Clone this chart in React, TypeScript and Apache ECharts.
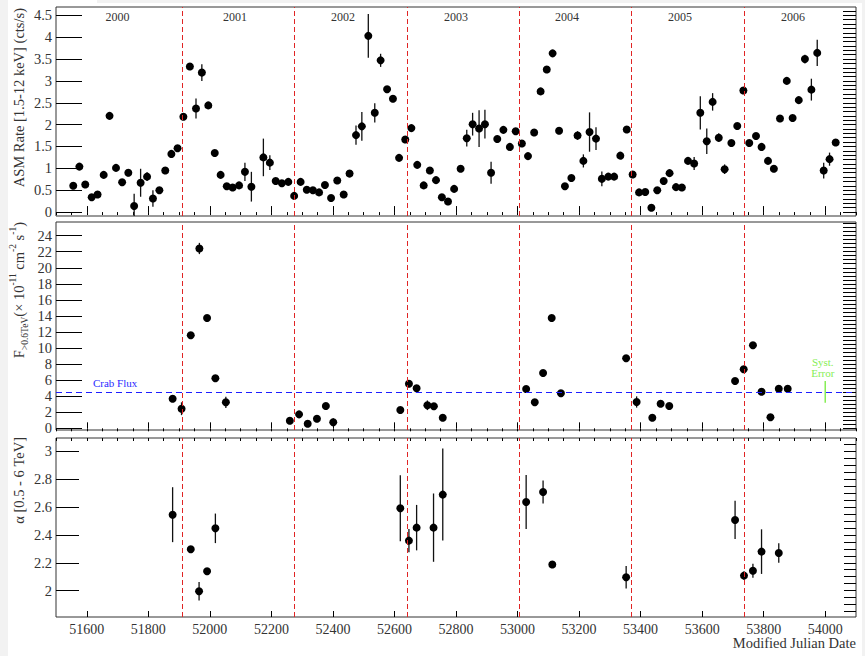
import React, { useEffect, useRef } from "react";
import * as echarts from "echarts";

// Calendar year boundaries (MJD of Jan 1st) and year captions
const yearStarts = [51910, 52275, 52640, 53005, 53371, 53736];
const yearNames = ["2000", "2001", "2002", "2003", "2004", "2005", "2006"];
const yearLabelMjd = [51700, 52082, 52433, 52800, 53161, 53528, 53895];

// RXTE ASM count rate (1.5-12 keV)
const asmMjd = [
  51556, 51576, 51595, 51616, 51635, 51655, 51674, 51695, 51715, 51735,
  51754, 51775, 51796, 51815, 51836, 51855, 51875, 51895, 51914, 51935,
  51955, 51974, 51995, 52016, 52035, 52055, 52074, 52095, 52114, 52135,
  52174, 52195, 52214, 52234, 52255, 52274, 52295, 52315, 52335, 52355,
  52374, 52394, 52414, 52435, 52454, 52475, 52494, 52515, 52536, 52555,
  52576, 52595, 52615, 52635, 52655, 52674, 52695, 52715, 52735, 52754,
  52774, 52794, 52815, 52835, 52854, 52875, 52894, 52914, 52934, 52954,
  52975, 52994, 53014, 53034, 53054, 53075, 53095, 53114, 53135, 53154,
  53175, 53195, 53214, 53234, 53255, 53274, 53295, 53314, 53334, 53355,
  53374, 53395, 53415, 53435, 53454, 53475, 53494, 53515, 53534, 53554,
  53574, 53594, 53615, 53634, 53654, 53673, 53695, 53714, 53734, 53753,
  53775, 53793, 53814, 53833, 53853, 53875, 53894, 53914, 53934, 53955,
  53974, 53995, 54014, 54034,
];
const asmRate = [
  0.6, 1.04, 0.63, 0.34, 0.4, 0.85, 2.2, 1.01, 0.68, 0.9,
  0.14, 0.67, 0.81, 0.31, 0.5, 0.95, 1.33, 1.46, 2.18, 3.33,
  2.37, 3.19, 2.44, 1.35, 0.85, 0.59, 0.56, 0.61, 0.92, 0.58,
  1.25, 1.13, 0.71, 0.66, 0.69, 0.37, 0.69, 0.51, 0.5, 0.45,
  0.62, 0.32, 0.72, 0.4, 0.88, 1.76, 1.96, 4.03, 2.27, 3.47,
  2.81, 2.59, 1.24, 1.66, 1.92, 1.08, 0.61, 0.95, 0.73, 0.34,
  0.24, 0.53, 0.99, 1.69, 2.01, 1.91, 2.01, 0.9, 1.67, 1.88,
  1.49, 1.85, 1.57, 1.28, 1.82, 2.76, 3.26, 3.63, 1.86, 0.59,
  0.78, 1.75, 1.17, 1.83, 1.68, 0.76, 0.81, 0.81, 1.29, 1.89,
  0.86, 0.45, 0.46, 0.1, 0.5, 0.71, 0.89, 0.57, 0.56, 1.17,
  1.11, 2.27, 1.62, 2.52, 1.7, 0.98, 1.58, 1.97, 2.78, 1.58,
  1.74, 1.49, 1.17, 0.99, 2.14, 3.0, 2.15, 2.56, 3.5, 2.8,
  3.64, 0.95, 1.21, 1.59,
];
const asmErr = [
  0.05, 0.05, 0.05, 0.05, 0.05, 0.05, 0.05, 0.05, 0.05, 0.08,
  0.28, 0.32, 0.1, 0.19, 0.05, 0.05, 0.05, 0.05, 0.05, 0.05,
  0.23, 0.19, 0.05, 0.05, 0.05, 0.05, 0.05, 0.05, 0.21, 0.34,
  0.43, 0.17, 0.05, 0.05, 0.05, 0.05, 0.05, 0.05, 0.05, 0.05,
  0.05, 0.05, 0.05, 0.05, 0.05, 0.22, 0.33, 0.5, 0.22, 0.15,
  0.05, 0.05, 0.05, 0.05, 0.05, 0.05, 0.05, 0.05, 0.05, 0.05,
  0.05, 0.05, 0.05, 0.19, 0.26, 0.42, 0.33, 0.25, 0.08, 0.05,
  0.05, 0.05, 0.05, 0.05, 0.05, 0.05, 0.05, 0.05, 0.05, 0.05,
  0.05, 0.1, 0.15, 0.45, 0.26, 0.17, 0.05, 0.05, 0.05, 0.05,
  0.05, 0.05, 0.05, 0.05, 0.05, 0.05, 0.05, 0.05, 0.05, 0.05,
  0.15, 0.38, 0.29, 0.2, 0.1, 0.11, 0.05, 0.05, 0.05, 0.05,
  0.05, 0.05, 0.05, 0.05, 0.05, 0.05, 0.05, 0.05, 0.1, 0.25,
  0.3, 0.18, 0.15, 0.05,
];

// VHE integral flux above 0.6 TeV (1e-11 cm^-2 s^-1)
const fluxMjd = [
  51879, 51908, 51938, 51966, 51991, 52018, 52052, 52260, 52290, 52318,
  52348, 52377, 52401, 52619, 52647, 52672, 52707, 52728, 52757, 53028,
  53056, 53083, 53111, 53141, 53353, 53387, 53438, 53465, 53493, 53707,
  53735, 53765, 53793, 53822, 53849, 53878,
];
const fluxVal = [
  3.69, 2.44, 11.59, 22.4, 13.74, 6.23, 3.24, 0.95, 1.74, 0.57,
  1.2, 2.78, 0.75, 2.28, 5.56, 4.98, 2.87, 2.74, 1.32, 4.9,
  3.24, 6.89, 13.74, 4.36, 8.72, 3.28, 1.32, 3.07, 2.78, 5.89,
  7.35, 10.34, 4.56, 1.37, 4.93, 4.93,
];
const fluxErr = [
  0.3, 0.8, 0.3, 0.7, 0.3, 0.3, 0.7, 0.3, 0.3, 0.3,
  0.3, 0.3, 0.5, 0.3, 0.3, 0.3, 0.6, 0.3, 0.3, 0.3,
  0.3, 0.3, 0.3, 0.3, 0.3, 0.7, 0.3, 0.3, 0.3, 0.3,
  0.3, 0.3, 0.3, 0.3, 0.3, 0.3,
];
const crabFlux = 4.49;
const systMjd = 54000;
const systLow = 3.2;
const systHigh = 5.9;

// Photon index between 0.5 and 6 TeV
const indexMjd = [
  51879, 51938, 51965, 51991, 52018, 52619, 52647, 52672, 52727, 52757,
  53028, 53083, 53113, 53353, 53707, 53736, 53765, 53793, 53849,
];
const indexVal = [
  2.545, 2.297, 1.996, 2.139, 2.447, 2.591, 2.359, 2.452, 2.452, 2.689,
  2.636, 2.708, 2.187, 2.096, 2.507, 2.108, 2.143, 2.28, 2.27,
];
const indexErr = [
  0.197, 0.02, 0.066, 0.02, 0.106, 0.237, 0.084, 0.163, 0.245, 0.33,
  0.194, 0.083, 0.01, 0.081, 0.137, 0.03, 0.05, 0.16, 0.07,
];

const SERIF = '"Liberation Serif", "Times New Roman", serif';

function steps(from: number, to: number, step: number, digits: number) {
  const out: number[] = [];
  const n = Math.round((to - from) / step);
  for (let i = 0; i <= n; i++) out.push(+(from + i * step).toFixed(digits));
  return out;
}

const xMajor = steps(51600, 54000, 200, 0);
const xMinor = steps(51500, 54100, 50, 0);

const panels = [
  { top: 7, height: 209, min: -0.09, max: 4.69, major: steps(0, 4.5, 0.5, 1), minor: steps(0, 4.6, 0.1, 1), majorLen: 26, minorLen: 13 },
  { top: 222, height: 208, min: -0.21, max: 25.7, major: steps(0, 24, 2, 0), minor: steps(0, 25.5, 0.5, 1), majorLen: 26, minorLen: 13 },
  { top: 438, height: 179, min: 1.811, max: 3.095, major: steps(2, 3, 0.2, 1), minor: steps(1.85, 3.05, 0.05, 2), majorLen: 23, minorLen: 12 },
];

function errorBars(xs: number[], ys: number[], es: number[]) {
  return xs.map((x, i) => [x, ys[i] - es[i], ys[i] + es[i]]);
}

function barSeries(idx: number, data: number[][], color: string, width: number) {
  return {
    type: "custom",
    xAxisIndex: idx * 2,
    yAxisIndex: idx * 2,
    z: 2,
    silent: true,
    clip: true,
    encode: { x: 0, y: [1, 2] },
    data,
    renderItem: (_p: any, api: any) => {
      const a = api.coord([api.value(0), api.value(1)]);
      const b = api.coord([api.value(0), api.value(2)]);
      return {
        type: "line",
        shape: { x1: a[0], y1: a[1], x2: b[0], y2: b[1] },
        style: { stroke: color, lineWidth: width },
      };
    },
  };
}

function dotSeries(idx: number, xs: number[], ys: number[]) {
  return {
    type: "scatter",
    xAxisIndex: idx * 2,
    yAxisIndex: idx * 2,
    z: 3,
    silent: true,
    symbol: "circle",
    symbolSize: 8,
    itemStyle: { color: "#000", opacity: 1 },
    data: xs.map((x, i) => [x, ys[i]]),
  };
}

function yearLines(idx: number, extra: any[] = []) {
  return {
    type: "scatter",
    xAxisIndex: idx * 2,
    yAxisIndex: idx * 2,
    z: 1,
    silent: true,
    data: [],
    markLine: {
      silent: true,
      symbol: ["none", "none"],
      label: { show: false },
      lineStyle: { color: "#e02424", width: 1, type: [5, 3] },
      data: [...yearStarts.map((m) => ({ xAxis: m })), ...extra],
    },
  };
}

function textSeries(idx: number, pts: { value: number[]; name: string }[], color: string, label: any) {
  return {
    type: "scatter",
    xAxisIndex: idx * 2,
    yAxisIndex: idx * 2,
    z: 4,
    silent: true,
    symbolSize: 0,
    itemStyle: { color, opacity: 1 },
    data: pts,
    label: {
      show: true,
      position: [0, 0],
      align: "center",
      verticalAlign: "middle",
      formatter: (p: any) => p.name,
      fontFamily: SERIF,
      color,
      ...label,
    },
  };
}

export default function App() {
  const ref = useRef<HTMLDivElement>(null);

  useEffect(() => {
    if (!ref.current) return;
    const chart = echarts.init(ref.current, null, { renderer: "svg" });

    const grid = panels.map((p) => ({
      left: 56,
      width: 800,
      top: p.top,
      height: p.height,
      show: true,
      backgroundColor: "#fff",
      borderColor: "#333",
      borderWidth: 1,
    }));

    const xAxis: any[] = [];
    const yAxis: any[] = [];
    panels.forEach((p, i) => {
      const base = { type: "value", gridIndex: i, min: 51500, max: 54100, axisLine: { show: false }, splitLine: { show: false } };
      xAxis.push({
        ...base,
        axisTick: { show: true, inside: true, length: 6, customValues: xMajor, lineStyle: { color: "#000", width: 1 } },
        axisLabel: {
          show: i === 2,
          customValues: xMajor,
          formatter: (v: number) => String(v),
          fontFamily: SERIF,
          fontSize: 14,
          color: "#333",
          margin: 5,
        },
      });
      xAxis.push({
        ...base,
        axisTick: { show: true, inside: true, length: 3, customValues: xMinor, lineStyle: { color: "#000", width: 1 } },
        axisLabel: { show: false },
      });
      const ybase = { type: "value", gridIndex: i, min: p.min, max: p.max, axisLine: { show: false }, splitLine: { show: false } };
      yAxis.push({
        ...ybase,
        axisTick: { show: true, inside: true, length: p.majorLen, customValues: p.major, lineStyle: { color: "#000", width: 1 } },
        axisLabel: {
          show: true,
          customValues: p.major,
          formatter: (v: number) => String(v),
          fontFamily: SERIF,
          fontSize: 14.5,
          color: "#333",
          margin: 4,
        },
      });
      yAxis.push({
        ...ybase,
        axisTick: { show: true, inside: true, length: p.minorLen, customValues: p.minor, lineStyle: { color: "#000", width: 1 } },
        axisLabel: { show: false },
      });
    });

    const series: any[] = [
      // ASM panel
      yearLines(0),
      barSeries(0, errorBars(asmMjd, asmRate, asmErr), "#111", 1.3),
      dotSeries(0, asmMjd, asmRate),
      textSeries(
        0,
        yearLabelMjd.map((m, i) => ({ value: [m, 4.46], name: yearNames[i] })),
        "#333",
        { fontSize: 12 }
      ),
      // VHE flux panel
      yearLines(1, [{ yAxis: crabFlux, lineStyle: { color: "#1e1eff", width: 1.2, type: [6, 4] } }]),
      barSeries(1, errorBars(fluxMjd, fluxVal, fluxErr), "#111", 1.3),
      dotSeries(1, fluxMjd, fluxVal),
      barSeries(1, [[systMjd, systLow, systHigh]], "#86ee55", 1.5),
      textSeries(1, [{ value: [51620, 5.7], name: "Crab Flux" }], "#2a2aff", { fontSize: 11, align: "left" }),
      textSeries(1, [{ value: [53992, 7.6], name: "Syst.\nError" }], "#86ee55", { fontSize: 11, lineHeight: 11 }),
      // spectral index panel
      yearLines(2),
      barSeries(2, errorBars(indexMjd, indexVal, indexErr), "#111", 1.3),
      dotSeries(2, indexMjd, indexVal),
    ];

    const titleStyle = { fontFamily: SERIF, fontSize: 14.5, fill: "#333" };

    chart.setOption({
      animation: false,
      backgroundColor: "#f2f2f2",
      grid,
      xAxis,
      yAxis,
      series,
      graphic: [
        { type: "rect", z: -100, silent: true, shape: { x: 8, y: 3, width: 854, height: 653 }, style: { fill: "#fff" } },
        { type: "rect", z: -100, silent: true, shape: { x: 8, y: 0, width: 89, height: 3 }, style: { fill: "#fff" } },
        {
          type: "text",
          x: 19,
          y: 8,
          rotation: Math.PI / 2,
          silent: true,
          style: { text: "ASM Rate [1.5-12 keV] (cts/s)", ...titleStyle, align: "right", verticalAlign: "middle" },
        },
        {
          type: "text",
          x: 19,
          y: 222,
          rotation: Math.PI / 2,
          silent: true,
          style: {
            text: "{m|F}{s|>0.6TeV}{m|(× 10}{p|-11}{m| cm}{p|-2}{m| s}{p|-1}{m|)}",
            align: "right",
            verticalAlign: "middle",
            rich: {
              m: { fontFamily: SERIF, fontSize: 14.5, fill: "#333", lineHeight: 22 },
              s: { fontFamily: SERIF, fontSize: 9.5, fill: "#333", lineHeight: 12, verticalAlign: "bottom" },
              p: { fontFamily: SERIF, fontSize: 9.5, fill: "#333", lineHeight: 12, verticalAlign: "top" },
            },
          },
        },
        {
          type: "text",
          x: 19,
          y: 437,
          rotation: Math.PI / 2,
          silent: true,
          style: { text: "α [0.5 - 6 TeV]", ...titleStyle, align: "right", verticalAlign: "middle" },
        },
        {
          type: "text",
          x: 856,
          y: 643,
          silent: true,
          style: { text: "Modified Julian Date", ...titleStyle, align: "right", verticalAlign: "middle" },
        },
      ],
    });

    return () => chart.dispose();
  }, []);

  return <div ref={ref} style={{ position: "fixed", left: 0, top: 0, width: 865, height: 656 }} />;
}
